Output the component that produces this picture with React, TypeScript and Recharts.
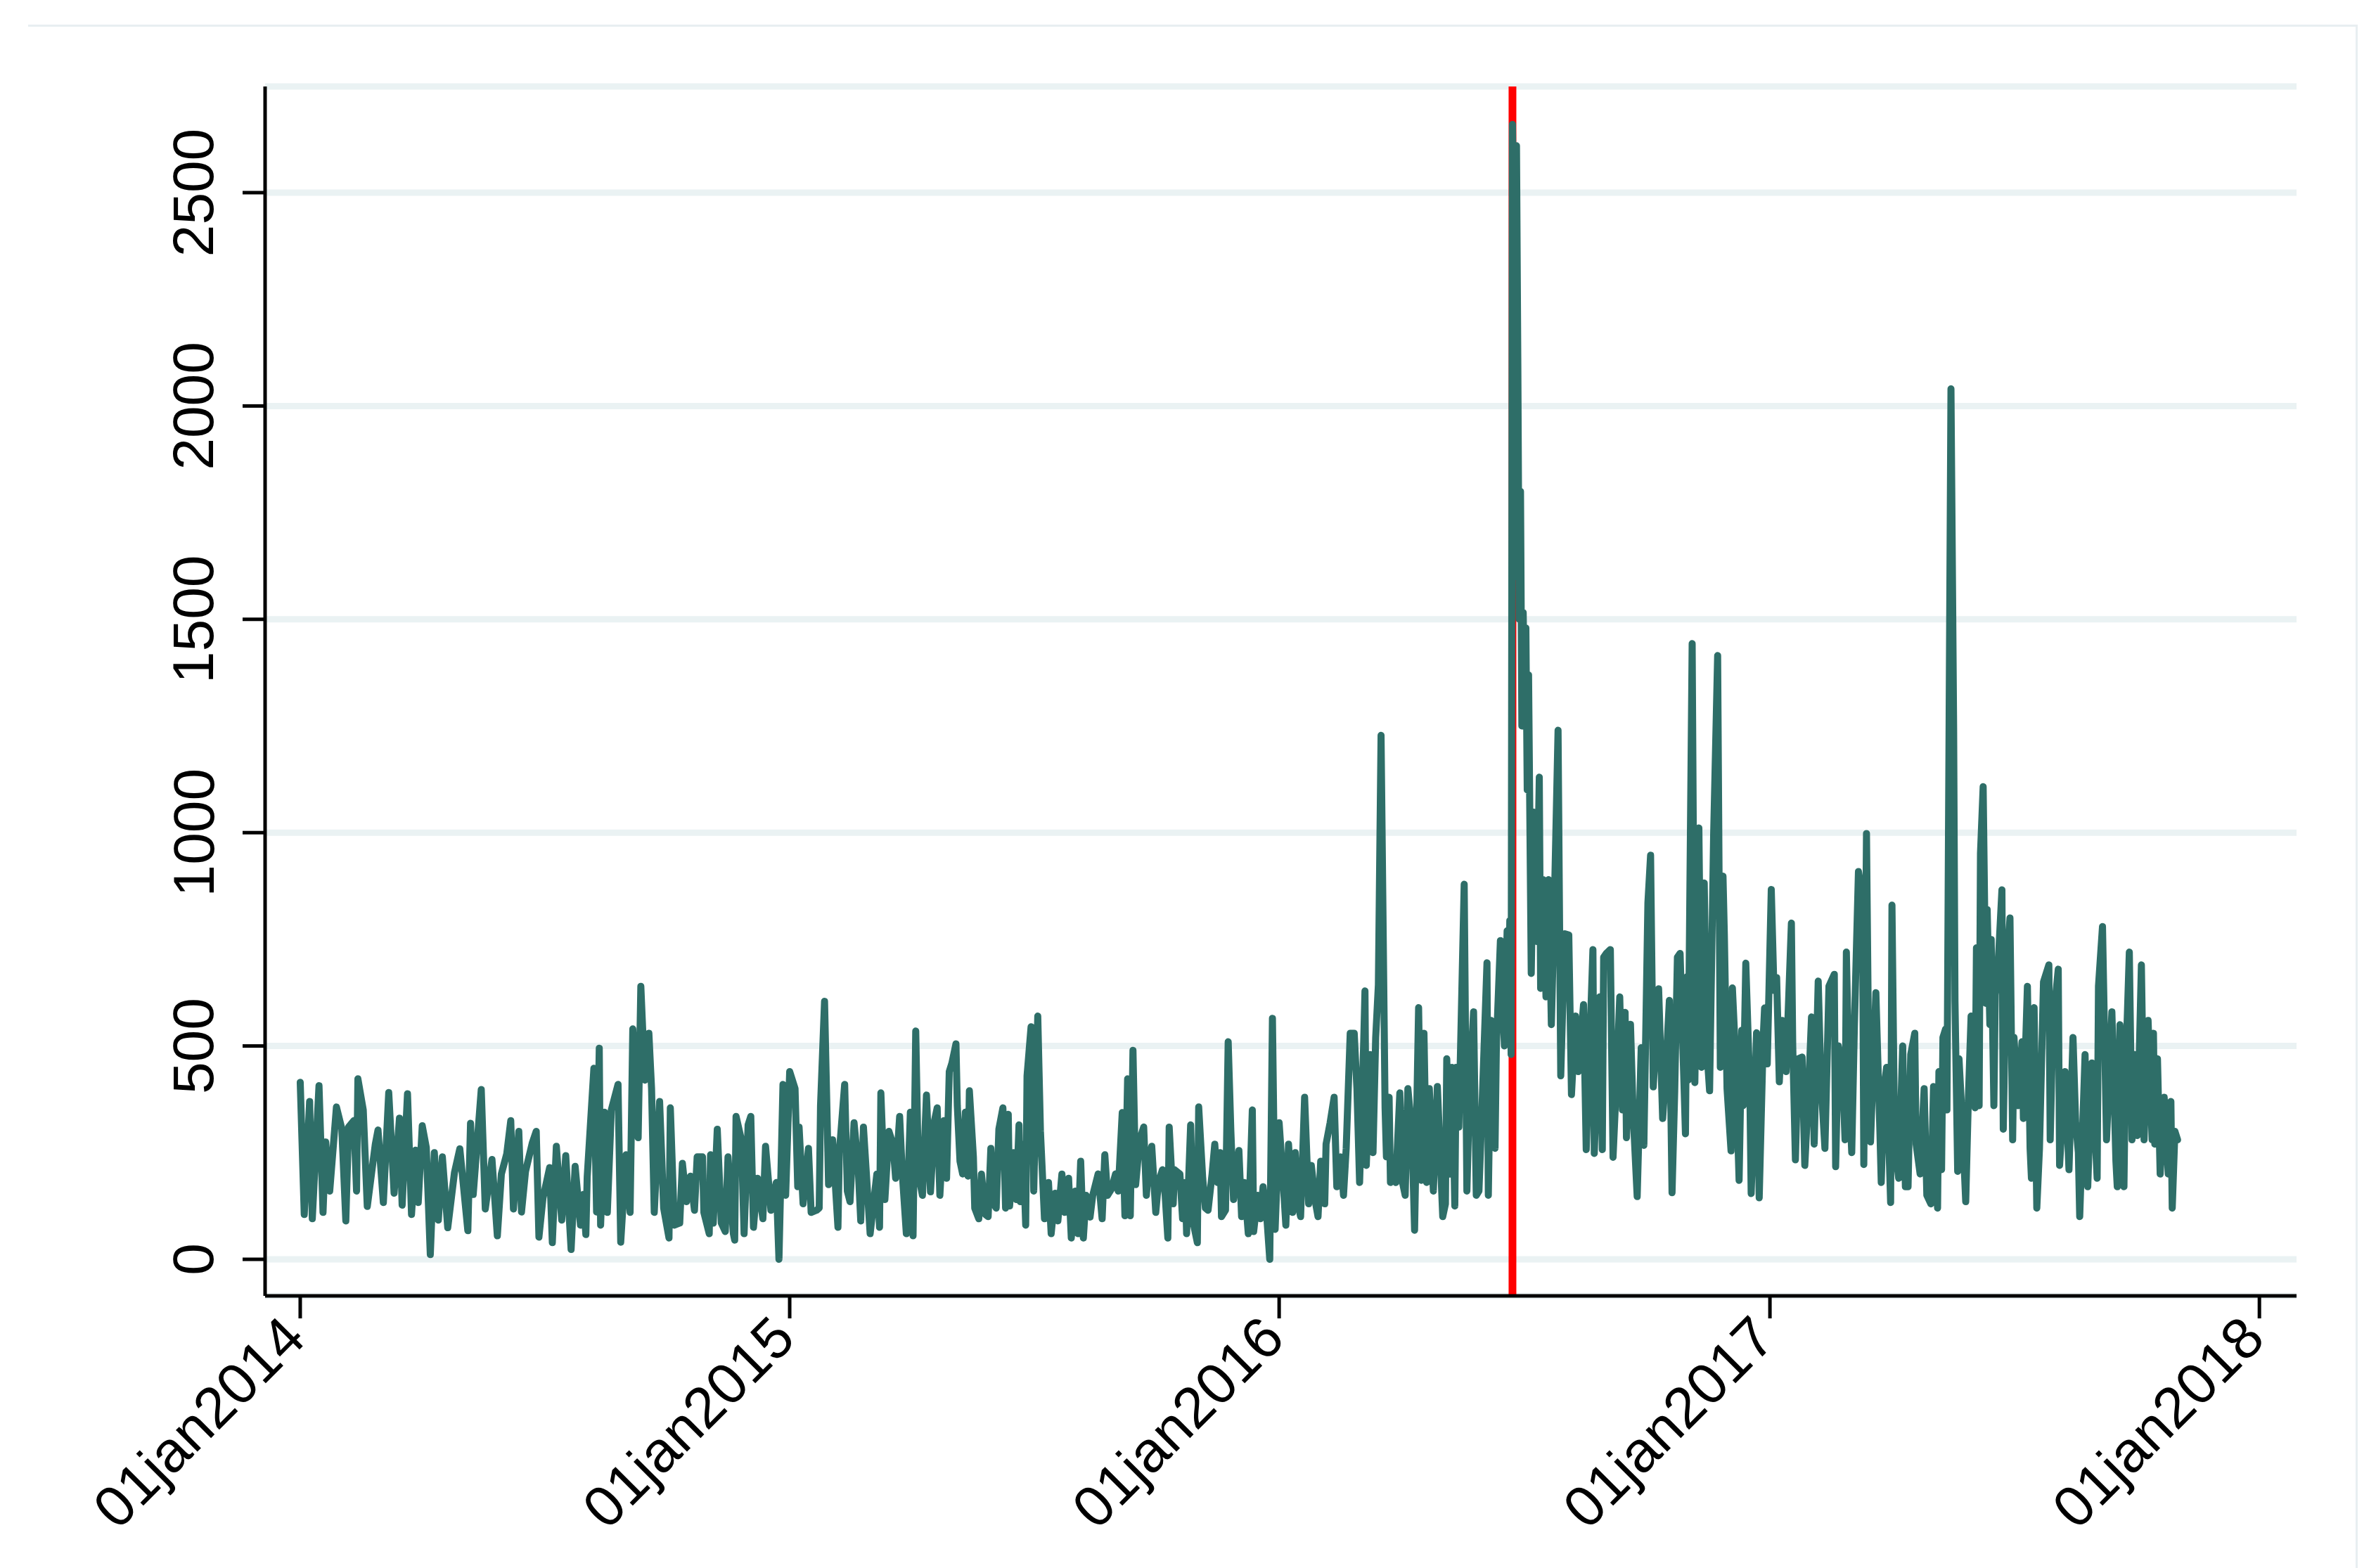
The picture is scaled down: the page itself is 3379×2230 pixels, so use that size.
import { LineChart, Line, XAxis, YAxis, CartesianGrid, ReferenceLine } from "recharts";

// day = days since 01jan2014, value = daily count
const d2014: [number, number][] = [
  [0, 415], [3, 105], [7, 370], [9, 95], [14, 407], [17, 110], [19, 275], [22, 160], [27, 357], [31, 306],
  [34, 90], [36, 310], [40, 325], [42, 160], [43, 423], [47, 350], [50, 124], [56, 270], [58, 303], [62, 133],
  [66, 391], [70, 155], [74, 331], [76, 127], [80, 388], [83, 105], [86, 256], [88, 133], [91, 313], [94, 262],
  [97, 11], [100, 250], [103, 92], [106, 240], [110, 74], [115, 203], [119, 259], [125, 67], [127, 319], [129, 152],
  [135, 398], [138, 118], [143, 234], [147, 55], [150, 200], [154, 247], [157, 325], [159, 118], [163, 300], [165, 111],
  [168, 206], [173, 272], [176, 300], [178, 52], [181, 143], [186, 215], [188, 39], [191, 265], [195, 92], [198, 243],
  [202, 23], [205, 218], [209, 80], [211, 152], [213, 58], [214, 193], [219, 448], [221, 111], [223, 495], [224, 80],
  [227, 345], [229, 110], [232, 350], [237, 410], [239, 40], [243, 245], [246, 110], [248, 540], [252, 285], [254, 640],
  [257, 420], [260, 530], [262, 400], [264, 110], [268, 370], [271, 120], [275, 50], [276, 355], [279, 80], [283, 85],
  [285, 225], [288, 135], [291, 195], [294, 115], [296, 240], [300, 240], [301, 110], [305, 60], [306, 245], [308, 85],
  [311, 305], [314, 85], [317, 65], [319, 240], [323, 60], [324, 45], [325, 335], [329, 280], [331, 60], [334, 315],
  [336, 335], [338, 75], [341, 190], [345, 95], [347, 265], [351, 115], [355, 180], [357, 0], [360, 410], [362, 150],
];

const d2015: [number, number][] = [
  [365, 440], [369, 400], [371, 170], [372, 310], [375, 130], [379, 260], [381, 110], [385, 115], [387, 120], [388, 360],
  [391, 605], [394, 175], [397, 280], [401, 75], [402, 250], [406, 410], [408, 160], [410, 135], [413, 320], [416, 220],
  [418, 90], [420, 310], [425, 60], [430, 200], [432, 75], [433, 390], [436, 140], [439, 300], [442, 270], [444, 190],
  [447, 335], [449, 200], [452, 60], [455, 345], [457, 55], [459, 535], [461, 200], [464, 150], [467, 385], [470, 158],
  [473, 325], [475, 355], [477, 150], [480, 325], [482, 190], [484, 440], [486, 460], [489, 505], [490, 360], [492, 230],
  [494, 200], [496, 345], [498, 195], [499, 395], [502, 240], [503, 120], [506, 95], [508, 200], [511, 105], [513, 100],
  [515, 260], [517, 130], [519, 120], [521, 305], [524, 355], [526, 120], [528, 340], [529, 125], [532, 250], [534, 140],
  [536, 315], [537, 135], [539, 270], [541, 80], [542, 430], [545, 545], [547, 160], [550, 570], [552, 300], [555, 95],
  [558, 180], [560, 60], [563, 155], [565, 90], [568, 200], [570, 110], [573, 190], [575, 50], [578, 160], [580, 60],
  [582, 230], [584, 50], [586, 150], [589, 99], [591, 150], [595, 200], [598, 95], [600, 245], [602, 150], [605, 165],
  [608, 200], [610, 160], [613, 344], [615, 102], [617, 423], [619, 102], [621, 490], [623, 175], [626, 280], [629, 310],
  [631, 150], [633, 230], [635, 265], [638, 110], [640, 180], [643, 210], [645, 150], [647, 50], [648, 310], [651, 130],
  [652, 210], [656, 200], [658, 95], [660, 180], [661, 60], [664, 315], [666, 85], [669, 39], [670, 357], [673, 190],
  [675, 120], [677, 115], [680, 200], [682, 270], [684, 180], [686, 250], [687, 100], [690, 115], [692, 510], [694, 300],
  [696, 140], [700, 255], [702, 100], [704, 180], [707, 60], [710, 350], [711, 65], [714, 150], [716, 95], [718, 170],
  [721, 90], [723, 0], [725, 565], [727, 70],
];

const d2016: [number, number][] = [
  [730, 320], [733, 180], [735, 80], [737, 270], [740, 110], [742, 250], [744, 130], [746, 100], [749, 380], [752, 130],
  [754, 220], [757, 135], [759, 100], [761, 230], [764, 130], [765, 270], [768, 320], [771, 380], [773, 170], [776, 240],
  [778, 150], [780, 260], [783, 530], [786, 530], [788, 400], [790, 180], [793, 502], [794, 629], [795, 220], [798, 480],
  [800, 250], [802, 520], [804, 643], [806, 1228], [809, 355], [810, 240], [812, 380], [813, 180], [816, 190], [817, 180],
  [820, 390], [822, 180], [824, 150], [826, 400], [829, 300], [831, 68], [834, 590], [836, 185], [838, 530], [840, 180],
  [842, 400], [845, 160], [848, 405], [852, 100], [854, 130], [855, 470], [857, 200], [859, 450], [861, 125], [862, 450],
  [864, 310], [868, 879], [870, 160], [872, 400], [875, 580], [877, 150], [879, 160], [881, 330], [885, 695], [886, 150],
  [888, 560], [891, 260], [892, 500], [895, 747], [898, 500], [900, 770], [901, 560], [902, 794], [903, 480], [904, 2660],
  [905, 2400], [906, 1600], [907, 2610], [908, 2100], [909, 1500], [910, 1800], [911, 1250], [912, 1516], [913, 1300], [914, 1480],
  [915, 1100], [916, 1370], [918, 670], [920, 1048], [922, 745], [924, 1130], [925, 635], [927, 890], [929, 615], [931, 890],
  [933, 550], [935, 800], [938, 1240], [940, 430], [943, 763], [946, 760], [948, 386], [951, 570], [953, 440], [957, 597],
  [959, 257], [964, 726], [965, 248], [969, 615], [971, 257], [972, 708], [974, 717], [977, 726], [979, 239], [982, 450],
  [984, 615], [986, 350], [988, 579], [989, 285], [992, 551], [994, 340], [997, 147], [1000, 496], [1002, 267], [1005, 836],
  [1007, 947], [1009, 404], [1013, 634], [1016, 330], [1018, 423], [1021, 607], [1023, 156], [1025, 395], [1027, 708], [1029, 717],
  [1033, 294], [1034, 662], [1035, 420], [1038, 1443], [1040, 414], [1043, 1011], [1045, 450], [1047, 882], [1049, 487], [1051, 395],
  [1054, 993], [1057, 1415], [1059, 450], [1061, 898], [1062, 762], [1064, 400], [1067, 254], [1068, 636], [1070, 500], [1073, 185],
  [1075, 537], [1076, 360], [1078, 694], [1081, 400], [1082, 154], [1085, 420], [1086, 531], [1088, 144], [1091, 520], [1092, 589],
  [1094, 458],
];

const d2017: [number, number][] = [
  [1097, 867], [1099, 630], [1101, 660], [1103, 416], [1105, 560], [1108, 440], [1112, 788], [1113, 500], [1115, 233], [1117, 470],
  [1120, 474], [1122, 220], [1125, 410], [1127, 568], [1129, 270], [1132, 652], [1134, 420], [1137, 260], [1140, 640], [1144, 668],
  [1145, 217], [1147, 500], [1150, 450], [1152, 280], [1153, 720], [1155, 400], [1157, 250], [1159, 550], [1162, 909], [1165, 850],
  [1166, 222], [1168, 998], [1170, 350], [1171, 275], [1175, 625], [1178, 300], [1179, 180], [1181, 400], [1183, 450], [1186, 133],
  [1187, 830], [1189, 270], [1192, 190], [1195, 500], [1197, 170], [1199, 170], [1201, 480], [1204, 530], [1205, 270], [1208, 200],
  [1211, 400], [1213, 150], [1216, 130], [1218, 405], [1221, 120], [1222, 440], [1224, 210], [1225, 520], [1227, 540], [1228, 350],
  [1231, 2040], [1233, 1240], [1234, 604], [1236, 206], [1237, 470], [1239, 350], [1242, 135], [1244, 380], [1246, 570], [1249, 355],
  [1250, 730], [1252, 360], [1253, 951], [1255, 1108], [1257, 600], [1258, 820], [1260, 550], [1261, 750], [1263, 360], [1264, 620],
  [1266, 680], [1269, 866], [1270, 305], [1272, 660], [1275, 800], [1277, 280], [1278, 520], [1281, 360], [1284, 510], [1285, 330],
  [1288, 640], [1290, 260], [1291, 190], [1293, 590], [1295, 120], [1297, 260], [1300, 650], [1304, 690], [1305, 280], [1307, 550],
  [1311, 680], [1312, 220], [1316, 440], [1319, 210], [1322, 520], [1324, 320], [1326, 250], [1327, 100], [1331, 480], [1333, 170],
  [1336, 460], [1340, 190], [1341, 640], [1344, 780], [1347, 280], [1351, 580], [1354, 230], [1355, 170], [1357, 550], [1360, 170],
  [1361, 420], [1364, 720], [1366, 280], [1368, 480], [1370, 290], [1373, 690], [1375, 280], [1378, 560], [1381, 280], [1382, 530],
  [1383, 270], [1385, 470], [1387, 200], [1390, 380], [1393, 200], [1395, 370], [1396, 120], [1398, 300], [1400, 280],
];

const xTicks = [0, 365, 730, 1096, 1461];
const xTickLabels = ["01jan2014", "01jan2015", "01jan2016", "01jan2017", "01jan2018"];
const yTicks = [0, 500, 1000, 1500, 2000, 2500];
const eventDay = 904; // 23jun2016

const data = [...d2014, ...d2015, ...d2016, ...d2017].map(([day, count]) => ({ day, count }));

const FONT = "'Liberation Sans', Arial, Helvetica, sans-serif";

function XTick({ x, y, payload }: any) {
  const i = xTicks.indexOf(payload.value);
  const tx = x - 9;
  const ty = y + 10;
  return (
    <text x={tx} y={ty} transform={`rotate(-45 ${tx} ${ty})`} textAnchor="end" dominantBaseline="central"
      fontSize={82} fontFamily={FONT} fill="#000">
      {xTickLabels[i]}
    </text>
  );
}

function YTick({ x, y, payload }: any) {
  const tx = x - 68;
  return (
    <text x={tx} y={y} transform={`rotate(-90 ${tx} ${y})`} textAnchor="middle" dominantBaseline="central"
      fontSize={82} fontFamily={FONT} fill="#000">
      {payload.value}
    </text>
  );
}

export default function App() {
  return (
    <div style={{ position: "absolute", left: 0, top: 0, width: 3379, height: 2230, background: "#fff", overflow: "hidden" }}>
      <div style={{ position: "absolute", left: 40, top: 35, width: 3313, height: 2300, borderTop: "3px solid #e8eef1", borderRight: "3px solid #e8eef1", boxSizing: "border-box" }} />
      <LineChart width={3379} height={2230} data={data} margin={{ top: 123, right: 113, bottom: 87, left: 177 }}>
        <CartesianGrid horizontal vertical={false} stroke="#eaf2f3" strokeWidth={9} />
        <XAxis dataKey="day" type="number" domain={[-26.2, 1488.7]} allowDataOverflow ticks={xTicks} interval={0}
          height={300} tick={<XTick />} tickSize={32} tickLine={{ stroke: "#000", strokeWidth: 5 }}
          axisLine={{ stroke: "#000", strokeWidth: 5 }} />
        <YAxis type="number" domain={[-85.7, 2748.8]} allowDataOverflow ticks={yTicks} interval={0}
          width={200} tick={<YTick />} tickSize={32} tickLine={{ stroke: "#000", strokeWidth: 5 }}
          axisLine={{ stroke: "#000", strokeWidth: 5 }} />
        <ReferenceLine x={eventDay} stroke="#ff0000" strokeWidth={11} />
        <Line type="linear" dataKey="count" stroke="#2e6e68" strokeWidth={10} dot={false}
          strokeLinejoin="round" strokeLinecap="round" isAnimationActive={false} />
      </LineChart>
    </div>
  );
}
